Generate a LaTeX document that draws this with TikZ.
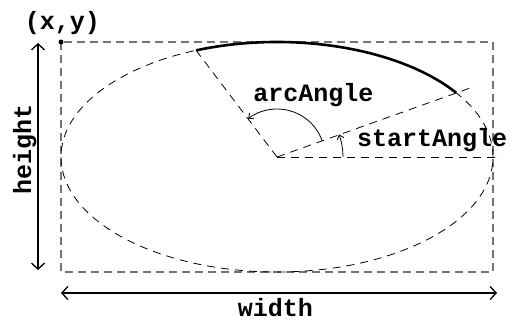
\documentclass[tikz,border=0pt]{standalone}
\usepackage{fontspec}
\setmonofont{Liberation Mono}
\usetikzlibrary{arrows.meta}
\begin{document}
\begin{tikzpicture}[x=1pt,y=1pt,
  lbl/.style={font=\ttfamily\bfseries\fontsize{25}{25}\selectfont, inner sep=0pt},
  frame/.style={draw=black!55, dash pattern=on 8pt off 5pt, line width=1.1pt},
  guide/.style={draw=black, dash pattern=on 8pt off 6pt, line width=0.8pt},
  dimarrow/.style={line width=1.3pt, {Straight Barb[length=6pt,width=13pt]}-{Straight Barb[length=6pt,width=13pt]}},
  angarrow/.style={line width=0.8pt, -{Straight Barb[length=4pt,width=7pt]}}
]
\useasboundingbox (0,0) rectangle (512,-323);
\coordinate (TL) at (61,-42);
\coordinate (BR) at (493,-272);
\coordinate (C) at (277,-157);
\coordinate (S) at (456.07,-92.69);
\coordinate (E) at (196.1,-50.37);
\coordinate (SL) at (473,-87);
\coordinate (BL) at (501,-157);
\coordinate (WL) at (61,-293);
\coordinate (WR) at (497,-293);
\coordinate (HT) at (38,-43);
\coordinate (HB) at (38,-270);
% frame and ellipse
\draw[frame] (TL) rectangle (BR);
\draw[guide] (C) ellipse[x radius=216, y radius=115];
% guide lines
\draw[guide] (C) -- (BL);
\draw[guide] (C) -- (SL);
\draw[guide] (C) -- (E);
% arc
\draw[line width=2.6pt] (S) arc[start angle=34, end angle=112, x radius=216, y radius=115];
% angle arrows
\draw[angarrow] (C) ++(20:48) arc[start angle=20, end angle=127, radius=48];
\draw[angarrow] (C) ++(0:66) arc[start angle=0, end angle=20, radius=66];
% corner dot
\fill (TL) circle (2.5pt);
% dimension arrows
\draw[dimarrow] (WL) -- (WR);
\draw[dimarrow] (HT) -- (HB);
% labels
\node[lbl, anchor=base] (xy) at (62.5,-30) {(x,y)};
\node[lbl, anchor=base] (arcl) at (313.5,-102) {arcAngle};
\node[lbl, anchor=base west] (startl) at (357,-147) {startAngle};
\node[lbl, anchor=base] (wl) at (275.5,-317) {width};
\node[lbl, anchor=base, rotate=90] (hl) at (31,-149.5) {height};
\end{tikzpicture}
\end{document}
